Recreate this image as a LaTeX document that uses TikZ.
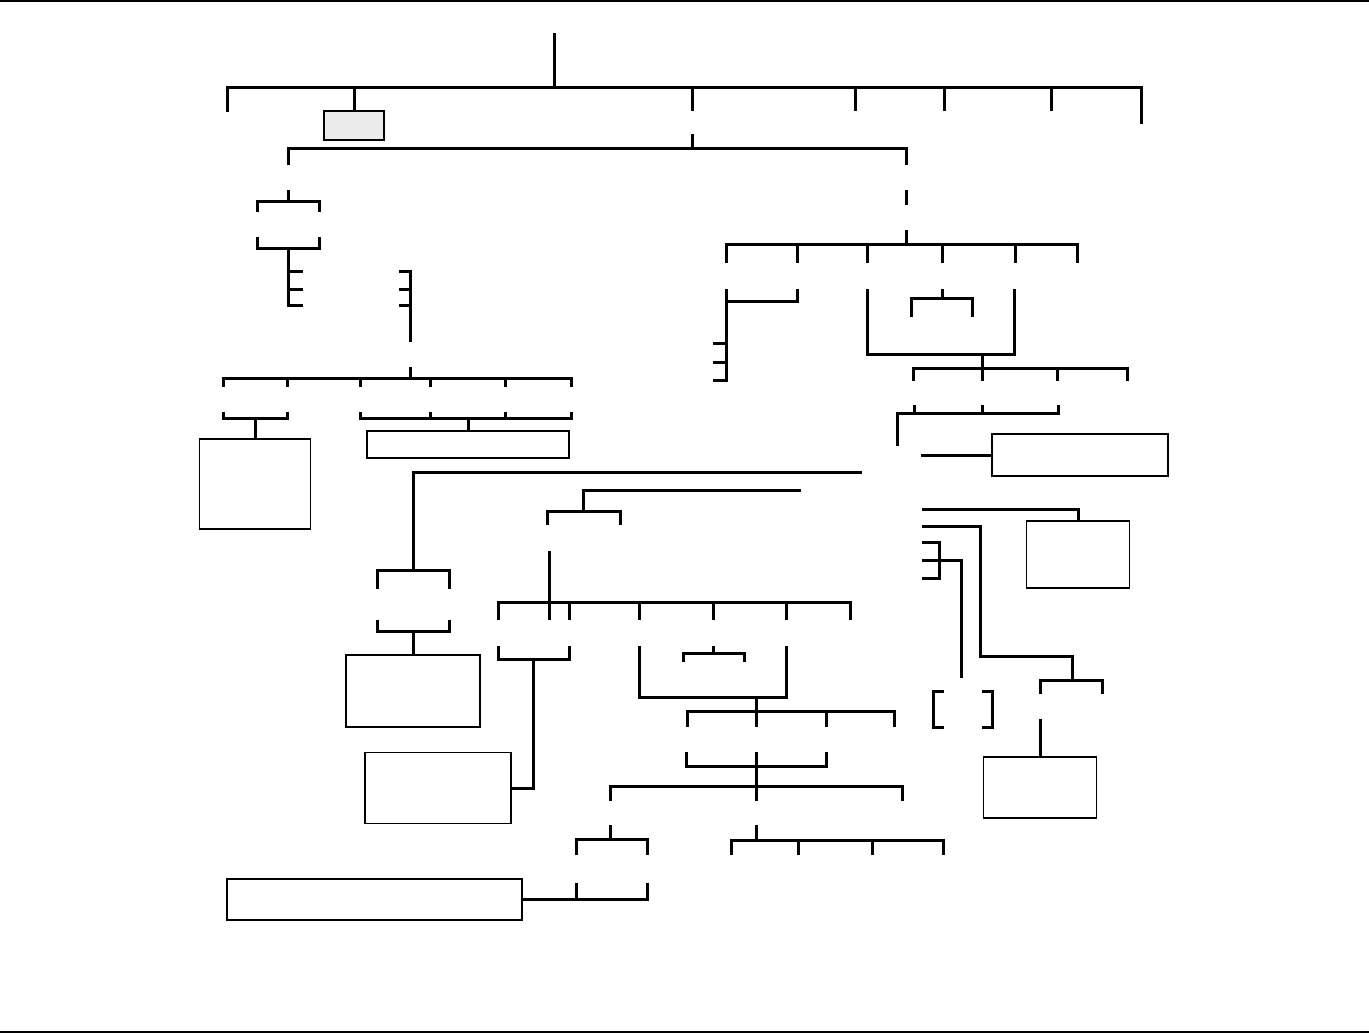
\documentclass[tikz,border=0pt]{standalone}
\usepackage{xcolor}
\usetikzlibrary{positioning}
\definecolor{headgray}{RGB}{235,235,235}

\begin{document}
\begin{tikzpicture}[
    x=1pt, y=-1pt,
    link/.style={line width=3pt},
    blank/.style={draw, line width=1.3pt, inner sep=0pt, fill=white},
    rule/.style={line width=1.8pt}
]
\useasboundingbox (0,0) rectangle (1369,1034);

% Page rules
\draw[rule] (0,1) -- (1369,1);
\draw[rule] (0,1032) -- (1369,1032);

% Boxes
\node[blank, fill=headgray, minimum width=60pt, minimum height=29pt] (head) at (354,125.5) {};
\node[blank, minimum width=111pt, minimum height=90pt] (boxA) at (255,484) {};
\node[blank, minimum width=202pt, minimum height=27pt] (boxB) at (468,444.5) {};
\node[blank, minimum width=176pt, minimum height=42pt] (boxC) at (1080,455) {};
\node[blank, minimum width=134pt, minimum height=72pt] (boxD) at (413,691) {};
\node[blank, minimum width=146pt, minimum height=71pt] (boxE) at (438,788) {};
\node[blank, minimum width=295pt, minimum height=41pt] (boxF) at (374.5,899.5) {};
\node[blank, minimum width=103pt, minimum height=67pt] (boxG) at (1078,554.5) {};
\node[blank, minimum width=113pt, minimum height=61pt] (boxH) at (1040,787.5) {};

% Top level
\draw[link] (554,33) -- (554,87);
\draw[link] (227,112) |- (1141,87) -- (1141,124);
\foreach \x in {692,855,944,1051} \draw[link] (\x,87) -- (\x,111);
\draw[link] (354,87) -- (head.north);

% Second level
\draw[link] (692,134) -- (692,148);
\draw[link] (288,165) |- (906,148) -- (906,165);
\draw[link] (906,190) -- (906,205);
\draw[link] (906,230) -- (906,244);

% Left branch
\draw[link] (288,190) -- (288,201);
\draw[link] (257,212) |- (319,201) -- (319,212);
\draw[link] (257,237) |- (319,248) -- (319,237);
\draw[link] (288,248) |- (303,305.5);
\foreach \y in {271,289} \draw[link] (288,\y) -- (303,\y);
\draw[link] (399,271) -| (410,342);
\foreach \y in {289,305.5} \draw[link] (399,\y) -- (410,\y);
\draw[link] (410,367) -- (410,378);
\draw[link] (223,387) |- (571,378) -- (571,387);
\foreach \x in {287,360,430,505} \draw[link] (\x,378) -- (\x,387);
\draw[link] (223,412) |- (287,418) -- (287,412);
\draw[link] (360,412) |- (571,418) -- (571,412);
\foreach \x in {430,505} \draw[link] (\x,412) -- (\x,418);
\draw[link] (255,418) -- (boxA.north);
\draw[link] (468,418) -- (boxB.north);

% Right branch
\draw[link] (726,263) |- (1077,244) -- (1077,263);
\foreach \x in {797,867,942,1015} \draw[link] (\x,244) -- (\x,263);
\draw[link] (797,289) |- (726,301);
\draw[link] (726,289) |- (713,380);
\foreach \y in {343,362} \draw[link] (713,\y) -- (726,\y);
\draw[link] (867,289) |- (1014,354) -- (1014,289);
\draw[link] (942,289) -- (942,298);
\draw[link] (911,317) |- (972,298) -- (972,317);
\draw[link] (982,354) -- (982,368);
\draw[link] (913,381) |- (1127,368) -- (1127,381);
\foreach \x in {982,1057} \draw[link] (\x,368) -- (\x,381);
\draw[link] (914,405) |- (1058,413) -- (1058,405);
\draw[link] (982,405) -- (982,413);
\draw[link] (897,446) |- (928,413);
\draw[link] (921,455) -- (boxC.west);

% Middle branch
\draw[link] (862,472) -| (413,570);
\draw[link] (377,589) |- (449,570) -- (449,589);
\draw[link] (377,620) |- (449,631) -- (449,620);
\draw[link] (413,631) -- (boxD.north);

\draw[link] (801,490) -| (583,511);
\draw[link] (547,525) |- (620,511) -- (620,525);
\draw[link] (549,551) -- (549,620);
\draw[link] (498,620) |- (850,602) -- (850,620);
\foreach \x in {569,639,713,786} \draw[link] (\x,602) -- (\x,620);
\draw[link] (498,646) |- (569,659) -- (569,646);
\draw[link] (533,659) |- (boxE.east);
\draw[link] (639,646) |- (786,697) -- (786,646);
\draw[link] (713,646) -- (713,653);
\draw[link] (683,662) |- (744,653) -- (744,662);
\draw[link] (756,697) -- (756,711);
\draw[link] (687,727) |- (894,711) -- (894,727);
\foreach \x in {756,826} \draw[link] (\x,711) -- (\x,727);
\draw[link] (686,752) |- (826,766) -- (826,752);
\draw[link] (756,752) -- (756,801);
\draw[link] (610,801) |- (902,786) -- (902,801);
\draw[link] (610,825) -- (610,839);
\draw[link] (576,855) |- (647,839) -- (647,855);
\draw[link] (756,825) -- (756,840);
\draw[link] (731,855) |- (943,840) -- (943,855);
\foreach \x in {798,872} \draw[link] (\x,840) -- (\x,855);
\draw[link] (576,883) -- (576,900);
\draw[link] (boxF.east) -| (647,883);

% Lower right branch
\draw[link] (922,509) -| (boxG.north);
\draw[link] (922,526) -| (980,656) -| (1072,680);
\draw[link] (1040,694) |- (1102,680) -- (1102,694);
\draw[link] (922,542) -| (939,578) -- (922,578);
\draw[link] (922,560) -| (961,678);
\draw[link] (944,691) -| (933,727) -- (944,727);
\draw[link] (982,691) -| (992,727) -- (982,727);
\draw[link] (1040,719) -- (boxH.north);

\end{tikzpicture}
\end{document}
